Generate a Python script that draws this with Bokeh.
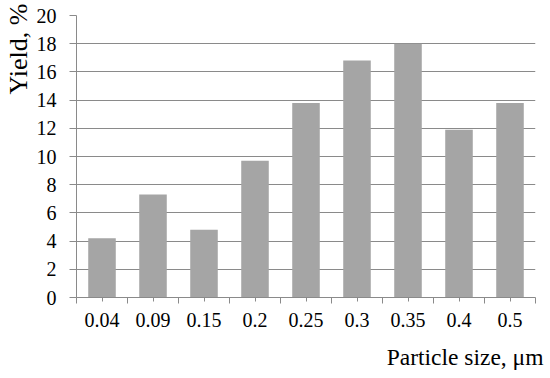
import math
from bokeh.plotting import figure
from bokeh.models import FixedTicker, Range1d, Title
from bokeh.embed import file_html
from bokeh.resources import INLINE

sizes = ["0.04", "0.09", "0.15", "0.2", "0.25", "0.3", "0.35", "0.4", "0.5"]
yields = [4.2, 7.3, 4.8, 9.7, 13.8, 16.8, 18.0, 11.9, 13.8]
y_ticks = list(range(0, 21, 2))

xs = list(range(len(sizes)))

FONT = "Liberation Serif"
GRID = "#8a8a8a"

p = figure(frame_width=459, frame_height=282, output_backend="svg", toolbar_location=None,
           x_range=Range1d(-0.5, len(sizes) - 0.5), y_range=Range1d(0, 20),
           min_border_left=76, min_border_right=15, min_border_top=15, min_border_bottom=81)
p.outline_line_color = None
p.background_fill_color = "white"
p.border_fill_color = "white"

p.vbar(x=xs, top=yields, width=0.54, color="#a5a5a5", line_color=None)

# x axis
xa = p.xaxis[0]
xa.ticker = FixedTicker(ticks=xs, minor_ticks=[i - 0.5 for i in range(len(sizes) + 1)])
xa.major_label_overrides = {i: s for i, s in zip(xs, sizes)}
xa.major_tick_out = 4
xa.major_tick_in = 0
xa.minor_tick_out = 6
xa.minor_tick_in = 0
xa.axis_line_color = GRID
xa.major_tick_line_color = GRID
xa.minor_tick_line_color = GRID
xa.major_label_text_font = FONT
xa.major_label_text_font_size = "20px"
xa.major_label_text_color = "black"
xa.major_label_standoff = 9

# y axis
ya = p.yaxis[0]
ya.ticker = FixedTicker(ticks=y_ticks)
ya.major_tick_out = 7
ya.major_tick_in = 0
ya.minor_tick_line_color = None
ya.axis_line_color = GRID
ya.major_tick_line_color = GRID
ya.major_label_text_font = FONT
ya.major_label_text_font_size = "20px"
ya.major_label_text_color = "black"
ya.major_label_standoff = 13

p.xgrid.grid_line_color = None
p.ygrid.ticker = FixedTicker(ticks=y_ticks)
p.ygrid.grid_line_color = GRID
p.ygrid.grid_line_width = 1

yt = Title(text="Yield, %", align="right", offset=-12, standoff=2, text_font=FONT,
           text_font_size="26px", text_font_style="normal", text_color="black")
p.add_layout(yt, "left")
xt = Title(text="Particle size, μm", align="right", offset=-8, standoff=24, text_font=FONT,
           text_font_size="23.5px", text_font_style="normal", text_color="black")
p.add_layout(xt, "below")

open("out.html", "w").write(file_html(p, INLINE))
